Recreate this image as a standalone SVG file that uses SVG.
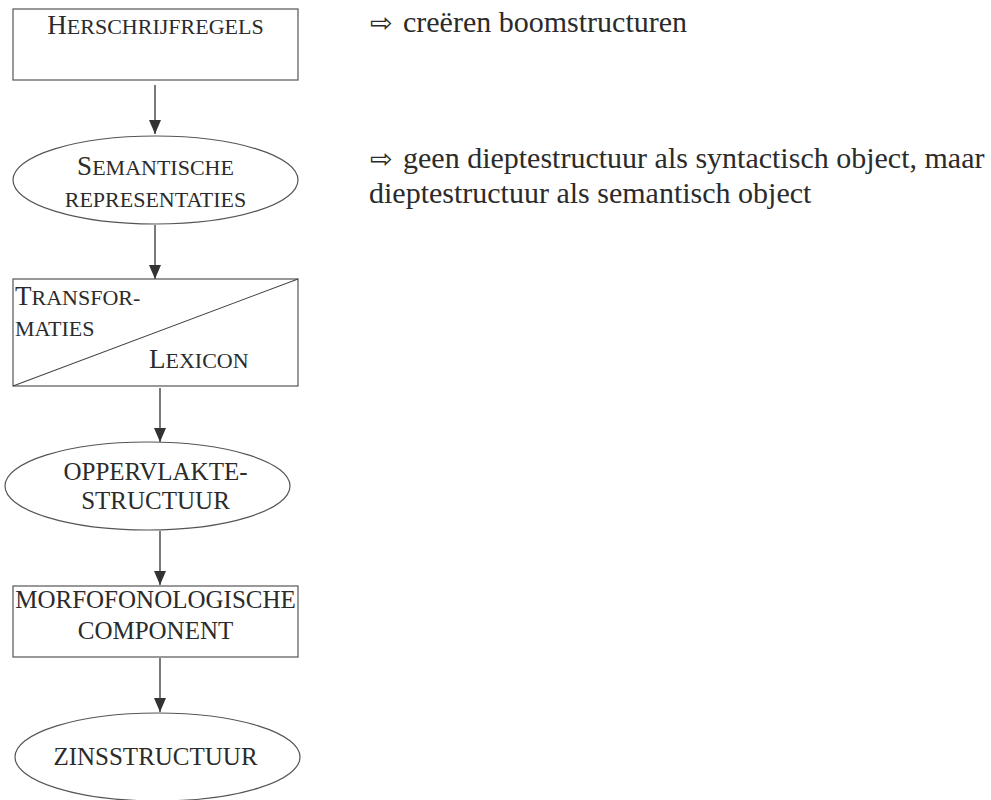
<svg xmlns="http://www.w3.org/2000/svg" width="991" height="800" viewBox="0 0 991 800">
<defs>
<style>
.shape{fill:#fff;stroke:#555;stroke-width:1.2}
.conn{stroke:#333;stroke-width:1.3;fill:none}
text{font-family:"Liberation Serif","Times New Roman",serif;fill:#2b2b2b}
.sc{font-size:22px}
.big{font-size:27px}
.cap{font-size:25px}
.note{font-family:"Liberation Serif","Times New Roman",serif;font-size:30px}
.sym{font-family:"DejaVu Sans",sans-serif;font-size:27px}
</style>
<marker id="ah" markerUnits="userSpaceOnUse" markerWidth="14" markerHeight="12" refX="14" refY="6" orient="auto">
<path d="M0,0 L14,6 L0,12 Z" fill="#333"/>
</marker>
</defs>
<rect width="991" height="800" fill="#fff"/>

<g id="connectors">
<line class="conn" x1="155" y1="85" x2="155" y2="134" marker-end="url(#ah)"/>
<line class="conn" x1="155" y1="225" x2="155" y2="279" marker-end="url(#ah)"/>
<line class="conn" x1="160" y1="388" x2="160" y2="442" marker-end="url(#ah)"/>
<line class="conn" x1="160" y1="531" x2="160" y2="585" marker-end="url(#ah)"/>
<line class="conn" x1="160" y1="658" x2="160" y2="712" marker-end="url(#ah)"/>
</g>

<g id="herschrijfregels">
<rect class="shape" x="13" y="9" width="285" height="71"/>
<text x="155.5" y="34" text-anchor="middle" class="sc"><tspan class="big">H</tspan>ERSCHRIJFREGELS</text>
</g>

<g id="semantische-representaties">
<ellipse class="shape" cx="155.5" cy="180" rx="142.5" ry="44"/>
<text x="155.5" y="175" text-anchor="middle" class="sc"><tspan class="big">S</tspan>EMANTISCHE</text>
<text x="155.5" y="207" text-anchor="middle" class="sc">REPRESENTATIES</text>
</g>

<g id="transformaties-lexicon">
<rect class="shape" x="13" y="279" width="285" height="107"/>
<line class="conn" x1="13" y1="386" x2="298" y2="279" style="stroke:#444;stroke-width:1.1"/>
<text x="15" y="305" class="sc"><tspan class="big">T</tspan>RANSFOR-</text>
<text x="15" y="336" class="sc">MATIES</text>
<text x="149" y="368" class="sc"><tspan class="big">L</tspan>EXICON</text>
</g>

<g id="oppervlaktestructuur">
<ellipse class="shape" cx="147.5" cy="486" rx="142.5" ry="44"/>
<text x="155.5" y="480" text-anchor="middle" class="cap">OPPERVLAKTE-</text>
<text x="155.5" y="509" text-anchor="middle" class="cap">STRUCTUUR</text>
</g>

<g id="morfofonologische-component">
<rect class="shape" x="13" y="586" width="285" height="71"/>
<text x="155.5" y="608" text-anchor="middle" class="cap">MORFOFONOLOGISCHE</text>
<text x="155.5" y="639" text-anchor="middle" class="cap">COMPONENT</text>
</g>

<g id="zinsstructuur">
<ellipse class="shape" cx="157.5" cy="757" rx="142.5" ry="44"/>
<text x="155.5" y="765" text-anchor="middle" class="cap">ZINSSTRUCTUUR</text>
</g>

<g id="notes">
<text x="370" y="32" class="note"><tspan class="sym">⇨</tspan><tspan x="403">creëren boomstructuren</tspan></text>
<text x="370" y="168" class="note"><tspan class="sym">⇨</tspan><tspan x="403">geen dieptestructuur als syntactisch object, maar</tspan></text>
<text x="369" y="203" class="note">dieptestructuur als semantisch object</text>
</g>
</svg>
